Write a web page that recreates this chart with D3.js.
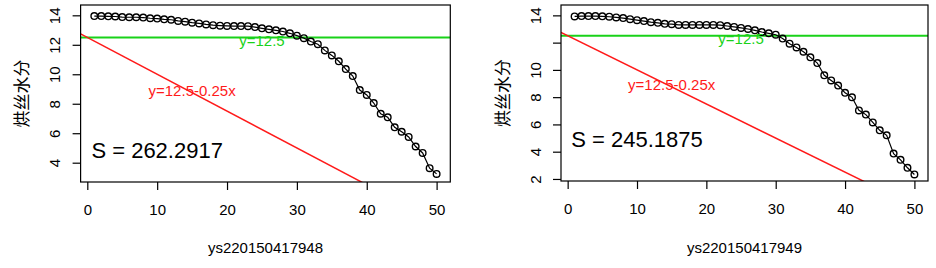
<!DOCTYPE html>
<html>
<head>
<meta charset="utf-8">
<script src="https://cdn.jsdelivr.net/npm/d3@7"></script>
<style>
	body { margin: 0; background: #fff; }
	svg { display: block; font-family: "Liberation Sans", Arial, sans-serif; }
</style>
</head>
<body>
<div class="chart"></div>
<script>
// sample ids (x axis titles)
var sampleIds = ['ys220150417948', 'ys220150417949'];

// moisture readings, one per position 1..50
var moistureA = [
	13.95, 13.95, 13.93, 13.92, 13.88, 13.87, 13.87, 13.85, 13.80, 13.78,
	13.73, 13.70, 13.62, 13.57, 13.50, 13.45, 13.38, 13.33, 13.30, 13.28,
	13.27, 13.27, 13.26, 13.20, 13.12, 13.05, 12.98, 12.90, 12.78, 12.62,
	12.45, 12.22, 12.04, 11.62, 11.28, 10.88, 10.35, 9.88, 8.93, 8.60,
	8.05, 7.32, 7.08, 6.40, 6.10, 5.75, 5.10, 4.66, 3.63, 3.24
];
var moistureB = [
	13.92, 13.95, 13.95, 13.95, 13.93, 13.90, 13.85, 13.80, 13.72, 13.65,
	13.58, 13.50, 13.45, 13.38, 13.35, 13.30, 13.30, 13.30, 13.30, 13.30,
	13.30, 13.28, 13.22, 13.15, 13.08, 13.00, 12.90, 12.78, 12.68, 12.58,
	12.30, 11.92, 11.65, 11.33, 10.92, 10.50, 9.60, 9.23, 8.85, 8.32,
	7.99, 7.03, 6.72, 6.15, 5.57, 5.20, 3.86, 3.40, 2.82, 2.33
];

// area labels
var areaLabels = ['S = 262.2917', 'S = 245.1875'];

// reference lines
var refLevel = 12.5;
var refSlope = -0.25;
var levelLabel = 'y=12.5';
var slopeLabel = 'y=12.5-0.25x';

// annotation anchors (data coords)
var levelLabelAt = [25, 12.3];
var slopeLabelAt = [15, 8.9];
var areaLabelAt = [10, 4.86];

// ticks
var xTicks = [0, 10, 20, 30, 40, 50];
var yTicksA = [4, 6, 8, 10, 12, 14];
var yTickLabelsA = ['4', '6', '8', '10', '12', '14'];
var yTicksB = [2, 4, 6, 8, 10, 12, 14];
var yTickLabelsB = ['2', '4', '6', '8', '10', '', '14'];

var yTitle = '烘丝水分';

(function() {
	'use strict';

	var width = 936, height = 268;
	var green = '#19d219';
	var red = '#ff1a1a';

	var svg = d3.select('.chart').append('svg')
		.attr('width', width)
		.attr('height', height);

	var panels = [
		{ id: 'a', values: moistureA, label: areaLabels[0], title: sampleIds[0],
			box: [80.6, 450.3, 5, 182], xDom: [-0.96, 51.96], yDom: [2.69, 14.70],
			yTicks: yTicksA, yLabels: yTickLabelsA },
		{ id: 'b', values: moistureB, label: areaLabels[1], title: sampleIds[1],
			box: [561, 928, 5, 181], xDom: [-0.96, 51.96], yDom: [1.85, 14.76],
			yTicks: yTicksB, yLabels: yTickLabelsB }
	];

	panels.forEach(draw);

	function draw(p) {
		var l = p.box[0], r = p.box[1], t = p.box[2], b = p.box[3];
		var x = d3.scaleLinear().domain(p.xDom).range([l, r]);
		var y = d3.scaleLinear().domain(p.yDom).range([b, t]);
		var g = svg.append('g');

		g.append('clipPath').attr('id', 'clip-' + p.id)
			.append('rect')
			.attr('x', l).attr('y', t)
			.attr('width', r - l).attr('height', b - t);

		var plot = g.append('g').attr('clip-path', 'url(#clip-' + p.id + ')');

		// horizontal reference
		plot.append('line')
			.attr('x1', l).attr('x2', r)
			.attr('y1', y(refLevel)).attr('y2', y(refLevel))
			.attr('stroke', green)
			.attr('stroke-width', 2);

		// sloped reference
		plot.append('line')
			.attr('x1', x(p.xDom[0])).attr('y1', y(refLevel + refSlope * p.xDom[0]))
			.attr('x2', x(p.xDom[1])).attr('y2', y(refLevel + refSlope * p.xDom[1]))
			.attr('stroke', red)
			.attr('stroke-width', 1.5);

		// series line + open circles
		var line = d3.line()
			.x(function(d, i) { return x(i + 1); })
			.y(function(d) { return y(d); });

		plot.append('path')
			.datum(p.values)
			.attr('d', line)
			.attr('fill', 'none')
			.attr('stroke', '#000')
			.attr('stroke-width', 1.2);

		plot.selectAll('circle')
			.data(p.values)
			.enter().append('circle')
			.attr('cx', function(d, i) { return x(i + 1); })
			.attr('cy', function(d) { return y(d); })
			.attr('r', 3.3)
			.attr('fill', 'none')
			.attr('stroke', '#000')
			.attr('stroke-width', 1.4);

		// annotations
		g.append('text')
			.attr('x', x(levelLabelAt[0])).attr('y', y(levelLabelAt[1]))
			.attr('text-anchor', 'middle').attr('dominant-baseline', 'central')
			.attr('fill', green).style('font-size', '15px')
			.text(levelLabel);

		g.append('text')
			.attr('x', x(slopeLabelAt[0])).attr('y', y(slopeLabelAt[1]))
			.attr('text-anchor', 'middle').attr('dominant-baseline', 'central')
			.attr('fill', red).style('font-size', '15px')
			.text(slopeLabel);

		g.append('text')
			.attr('x', x(areaLabelAt[0])).attr('y', y(areaLabelAt[1]))
			.attr('text-anchor', 'middle').attr('dominant-baseline', 'central')
			.attr('fill', '#000').style('font-size', '22px')
			.text(p.label);

		// box
		g.append('rect')
			.attr('x', l).attr('y', t)
			.attr('width', r - l).attr('height', b - t)
			.attr('fill', 'none')
			.attr('stroke', '#000')
			.attr('stroke-width', 1.2);

		// x axis
		var xAxis = d3.axisBottom(x).tickValues(xTicks).tickSize(8).tickPadding(14);
		var xa = g.append('g').attr('transform', 'translate(0,' + b + ')').call(xAxis);
		xa.select('.domain').remove();
		xa.selectAll('line').attr('stroke-width', 1.2);
		xa.selectAll('text').style('font-size', '15px')
			.style('font-family', '"Liberation Sans", Arial, sans-serif')
			.attr('fill', '#000');

		// y axis
		var yAxis = d3.axisLeft(y).tickValues(p.yTicks)
			.tickFormat(function(d, i) { return p.yLabels[i]; })
			.tickSize(8);
		var ya = g.append('g').attr('transform', 'translate(' + l + ',0)').call(yAxis);
		ya.select('.domain').remove();
		ya.selectAll('line').attr('stroke-width', 1.2);
		ya.selectAll('text')
			.attr('x', null).attr('dy', null)
			.attr('text-anchor', 'middle')
			.attr('dominant-baseline', 'central')
			.attr('transform', 'translate(-26,0) rotate(-90)')
			.style('font-size', '15px')
			.style('font-family', '"Liberation Sans", Arial, sans-serif')
			.attr('fill', '#000');

		// titles
		g.append('text')
			.attr('x', (l + r) / 2).attr('y', 247)
			.attr('text-anchor', 'middle').attr('dominant-baseline', 'central')
			.style('font-size', '15px')
			.text(p.title);

		g.append('text')
			.attr('transform', 'translate(' + (l - 60) + ',' + ((t + b) / 2) + ') rotate(-90)')
			.attr('text-anchor', 'middle').attr('dominant-baseline', 'central')
			.style('font-size', '17px')
			.style('font-family', '"Noto Sans CJK SC", sans-serif')
			.text(yTitle);
	}
})();
</script>
</body>
</html>
